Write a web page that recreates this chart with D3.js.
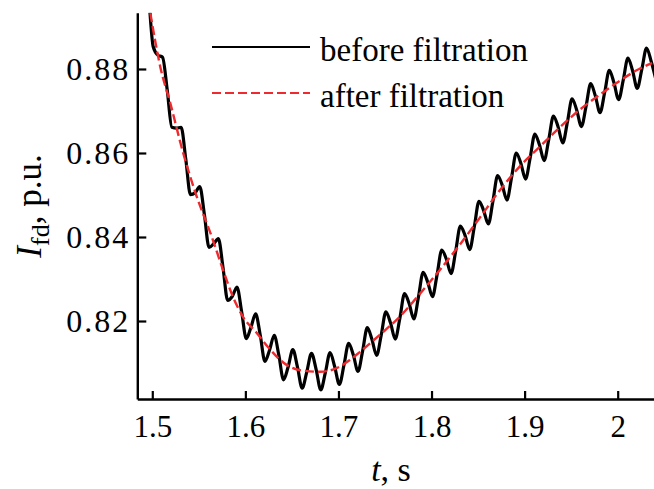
<!DOCTYPE html>
<html>
<head>
<meta charset="utf-8">
<script src="https://cdn.jsdelivr.net/npm/d3@7"></script>
<style>
  html, body { margin: 0; padding: 0; background: #fff; }
  svg { display: block; }
</style>
</head>
<body>
<svg id="chart" width="654" height="489"></svg>
<script>
// ---- data ----
const filteredT = [1.4979, 1.5086, 1.5193, 1.5332, 1.5461, 1.5643, 1.5761, 1.5868, 1.5975, 1.6125,
  1.6243, 1.6447, 1.6586, 1.6801, 1.6961, 1.7122, 1.7229, 1.7444, 1.7658, 1.7872,
  1.8087, 1.8301, 1.8516, 1.8730, 1.8944, 1.9159, 1.9373, 1.9587, 1.9802, 2.0016,
  2.0230, 2.0370];
const filteredV = [0.8933, 0.8805, 0.8719, 0.8600, 0.8507, 0.8398, 0.8321, 0.8257, 0.8210, 0.8171,
  0.8138, 0.8095, 0.8083, 0.8079, 0.8086, 0.8107, 0.8126, 0.8167, 0.8210, 0.8264,
  0.8321, 0.8381, 0.8445, 0.8510, 0.8567, 0.8614, 0.8660, 0.8702, 0.8738, 0.8771,
  0.8800, 0.8814];

const rawT = [1.4975, 1.501, 1.506, 1.511, 1.516, 1.521, 1.526, 1.531, 1.536, 1.541, 1.546,
  1.551, 1.556, 1.561, 1.566, 1.571, 1.576, 1.581, 1.586, 1.591, 1.596,
  1.601, 1.606, 1.611, 1.616, 1.621, 1.626, 1.631, 1.636, 1.641, 1.646,
  1.651, 1.656, 1.661, 1.666, 1.671, 1.676, 1.681, 1.686, 1.691, 1.696,
  1.701, 1.706, 1.711, 1.716, 1.721, 1.726, 1.731, 1.736, 1.741, 1.746,
  1.751, 1.756, 1.761, 1.766, 1.771, 1.776, 1.781, 1.786, 1.791, 1.796,
  1.801, 1.806, 1.811, 1.816, 1.821, 1.826, 1.831, 1.836, 1.841, 1.846,
  1.851, 1.856, 1.861, 1.866, 1.871, 1.876, 1.881, 1.886, 1.891, 1.896,
  1.901, 1.906, 1.911, 1.916, 1.921, 1.926, 1.931, 1.936, 1.941, 1.946,
  1.951, 1.956, 1.961, 1.966, 1.971, 1.976, 1.981, 1.986, 1.991, 1.996,
  2.001, 2.006, 2.011, 2.016, 2.021, 2.026, 2.031, 2.036, 2.041];
const rawV = [0.8935, 0.8853, 0.8833, 0.8828, 0.8751, 0.8661, 0.8659, 0.8661, 0.8585, 0.8501, 0.8505,
  0.8520, 0.8453, 0.8375, 0.8384, 0.8396, 0.8327, 0.8249, 0.8259, 0.8281, 0.8222,
  0.8158, 0.8185, 0.8217, 0.8166, 0.8104, 0.8131, 0.8166, 0.8118, 0.8060, 0.8091,
  0.8132, 0.8090, 0.8040, 0.8079, 0.8123, 0.8085, 0.8036, 0.8078, 0.8125, 0.8091,
  0.8049, 0.8096, 0.8147, 0.8119, 0.8080, 0.8129, 0.8184, 0.8156, 0.8118, 0.8167,
  0.8222, 0.8195, 0.8157, 0.8207, 0.8265, 0.8241, 0.8205, 0.8258, 0.8316, 0.8292,
  0.8258, 0.8311, 0.8369, 0.8347, 0.8313, 0.8367, 0.8426, 0.8404, 0.8370, 0.8425,
  0.8485, 0.8463, 0.8431, 0.8486, 0.8546, 0.8523, 0.8488, 0.8542, 0.8600, 0.8575,
  0.8538, 0.8589, 0.8645, 0.8619, 0.8582, 0.8633, 0.8688, 0.8662, 0.8624, 0.8674,
  0.8729, 0.8702, 0.8663, 0.8711, 0.8765, 0.8736, 0.8696, 0.8744, 0.8797, 0.8767,
  0.8727, 0.8774, 0.8826, 0.8796, 0.8754, 0.8800, 0.8850, 0.8818, 0.8775];

const xTicks = [1.5, 1.6, 1.7, 1.8, 1.9, 2.0];
const xTickLabels = ["1.5", "1.6", "1.7", "1.8", "1.9", "2"];
const yTicks = [0.82, 0.84, 0.86, 0.88];
const yTickLabels = ["0.82", "0.84", "0.86", "0.88"];
const legendLabels = ["before filtration", "after filtration"];

// ---- drawing ----
const SERIF = "'Liberation Serif', 'Times New Roman', Tinos, Times, 'Nimbus Roman', 'DejaVu Serif', serif";
const svg = d3.select("#chart");
const plot = { left: 137.3, right: 654, top: 12.7, bottom: 399 };

const x = d3.scaleLinear().domain([1.4839, 2.039]).range([plot.left, plot.right]);
const y = d3.scaleLinear().domain([0.80143, 0.8934]).range([plot.bottom, plot.top]);

svg.append("defs").append("clipPath").attr("id", "clip")
  .append("rect").attr("x", plot.left).attr("y", plot.top)
  .attr("width", plot.right - plot.left).attr("height", plot.bottom - plot.top);

const raw = rawT.map((t, i) => [t, rawV[i]]);
const filt = filteredT.map((t, i) => [t, filteredV[i]]);

const g = svg.append("g").attr("clip-path", "url(#clip)");
g.append("path")
  .attr("d", d3.line().x(d => x(d[0])).y(d => y(d[1])).curve(d3.curveMonotoneX)(raw))
  .attr("fill", "none").attr("stroke", "#000").attr("stroke-width", 3.2)
  .attr("stroke-linejoin", "round");
g.append("path")
  .attr("d", d3.line().x(d => x(d[0])).y(d => y(d[1])).curve(d3.curveMonotoneX)(filt))
  .attr("fill", "none").attr("stroke", "#ee2a2e").attr("stroke-width", 2.4)
  .attr("stroke-dasharray", "9,4");

// x axis
const xAxis = svg.append("g").attr("transform", `translate(0,${plot.bottom})`)
  .call(d3.axisBottom(x).tickValues(xTicks).tickSizeInner(-8).tickSizeOuter(0)
    .tickPadding(16).tickFormat((d, i) => xTickLabels[i]));
xAxis.attr("font-family", null);
xAxis.select(".domain").attr("stroke-width", 2.4);
xAxis.selectAll(".tick line").attr("stroke-width", 2.2);
xAxis.selectAll("text").style("font-family", SERIF).style("font-size", "31px").attr("fill", "#000");

// y axis
const yAxis = svg.append("g").attr("transform", `translate(${plot.left},0)`)
  .call(d3.axisLeft(y).tickValues(yTicks).tickSizeInner(-9).tickSizeOuter(0)
    .tickPadding(7).tickFormat((d, i) => yTickLabels[i]));
yAxis.attr("font-family", null);
yAxis.select(".domain").attr("stroke-width", 2.4);
yAxis.selectAll(".tick line").attr("stroke-width", 2.2);
yAxis.selectAll("text").style("font-family", SERIF).style("font-size", "32px")
  .style("letter-spacing", "2px").attr("fill", "#000");

// axis titles
const xt = svg.append("text").attr("x", 391).attr("y", 481).attr("text-anchor", "middle")
  .style("font-family", SERIF).style("font-size", "34px");
xt.append("tspan").style("font-style", "italic").text("t");
xt.append("tspan").text(", s");

const yt = svg.append("text").attr("transform", "translate(41,206) rotate(-90)")
  .attr("text-anchor", "middle").style("font-family", SERIF).style("font-size", "35px");
yt.append("tspan").style("font-style", "italic").text("I");
yt.append("tspan").style("font-size", "26px").attr("dy", 8).text("fd");
yt.append("tspan").attr("dy", -8).text(", p.u.");

// legend
const leg = svg.append("g");
leg.append("line").attr("x1", 212).attr("x2", 310).attr("y1", 47).attr("y2", 47)
  .attr("stroke", "#000").attr("stroke-width", 2.2);
leg.append("line").attr("x1", 212).attr("x2", 310).attr("y1", 93).attr("y2", 93)
  .attr("stroke", "#ee2a2e").attr("stroke-width", 2.2).attr("stroke-dasharray", "9,4");
leg.selectAll("text.lab").data(legendLabels).enter().append("text").attr("class", "lab")
  .attr("x", 320).attr("y", (d, i) => 61 + i * 46)
  .style("font-family", SERIF).style("font-size", "33px").text(d => d);
</script>
</body>
</html>
